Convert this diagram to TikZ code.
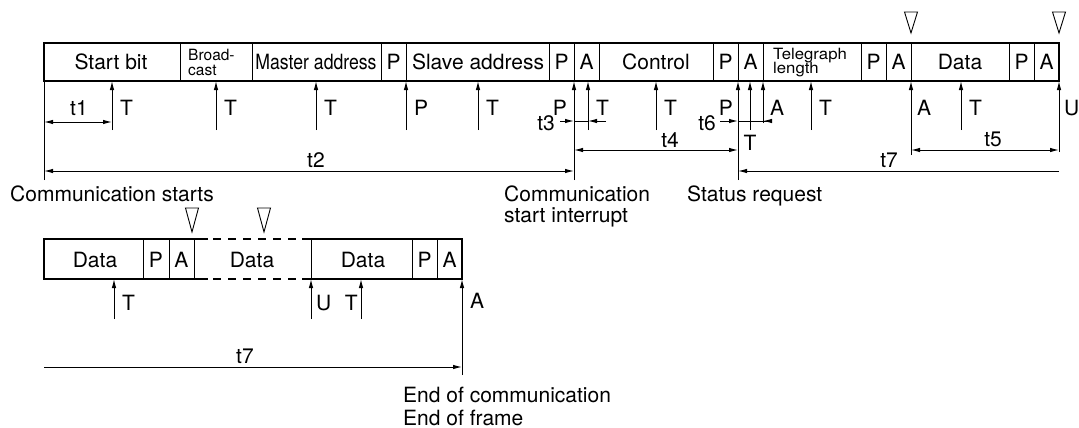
\documentclass[tikz,border=0pt]{standalone}
\usepackage{fontspec}
\setmainfont{TeX Gyre Heros}
\usetikzlibrary{arrows.meta}
\begin{document}
\begin{tikzpicture}[x=1pt,y=-1pt,>={Latex[length=9pt,width=4.5pt]},
  frame/.style={line width=2.6pt},
  thinl/.style={line width=1pt},
  arr/.style={thinl,->},
  dim/.style={thinl,<->},
  lbl/.style={font=\fontsize{21}{24}\selectfont,inner sep=0pt},
  sml/.style={font=\fontsize{15.5}{16}\selectfont,inner sep=0pt},
  tri/.style={line width=0.9pt}]
\useasboundingbox (0,0) rectangle (1079,428);

% ---------- top frame ----------
\foreach \x in {180,252,381,406,549,574,599,713,738,763,861,886,911,1009,1034}
  \draw[thinl] (\x,43) -- (\x,81);
\draw[frame] (44,43) rectangle (1059,81);

\node[lbl,anchor=base] (c1) at (111,70) {Start bit};
\node[sml,anchor=base west] (c2a) at (188,60) {Broad-};
\node[sml,anchor=base west] (c2b) at (188,75.5) {cast};
\node[lbl,anchor=base] (c3) at (316,70) {\scalebox{0.84}[1]{Master address}};
\node[lbl,anchor=base] (c4) at (393.5,70) {P};
\node[lbl,anchor=base] (c5) at (478,70) {Slave address};
\node[lbl,anchor=base] (c6) at (561.5,70) {P};
\node[lbl,anchor=base] (c7) at (586.5,70) {A};
\node[lbl,anchor=base] (c8) at (656,70) {Control};
\node[lbl,anchor=base] (c9) at (725.5,70) {P};
\node[lbl,anchor=base] (c10) at (750.5,70) {A};
\node[sml,anchor=base west] (c11a) at (773,59.5) {\scalebox{1.08}[1]{Telegraph}};
\node[sml,anchor=base west] (c11b) at (773,73.5) {\scalebox{1.08}[1]{length}};
\node[lbl,anchor=base] (c12) at (873.5,70) {P};
\node[lbl,anchor=base] (c13) at (898.5,70) {A};
\node[lbl,anchor=base] (c14) at (960,70) {Data};
\node[lbl,anchor=base] (c15) at (1021.5,70) {P};
\node[lbl,anchor=base] (c16) at (1046.5,70) {A};

% triangles
\draw[tri] (904.5,12) -- (917.5,12) -- (911,33) -- cycle;
\draw[tri] (1052.5,12) -- (1065.5,12) -- (1059,33) -- cycle;

% short arrows below top frame
\foreach \n/\x/\y in {T1/112/130, T2/216/130, T3/316/130, P1/406/130, T4/478/130,
                      T5/588/130, T6/656/130, T7/750/130, A1/763/123, T8/811/130, T9/961/130} {
  \coordinate (s\n) at (\x,\y);
  \coordinate (e\n) at (\x,81);
  \draw[arr] (s\n) -- (e\n);
}
% long lines
\coordinate (sL0) at (44,180);  \coordinate (eL0) at (44,81);
\coordinate (sL1) at (574,180); \coordinate (eL1) at (574,81);
\coordinate (sL2) at (738,180); \coordinate (eL2) at (738,81);
\coordinate (sL3) at (911,155); \coordinate (eL3) at (911,81);
\coordinate (sL4) at (1059,152); \coordinate (eL4) at (1059,81);
\draw[thinl] (sL0) -- (eL0);
\draw[arr] (sL1) -- (eL1);
\draw[arr] (sL2) -- (eL2);
\draw[arr] (sL3) -- (eL3);
\draw[arr] (sL4) -- (eL4);

% arrow labels
\foreach \n/\x/\t in {lT1/120/T, lT2/224/T, lT3/324/T, lP1/414/P, lT4/486/T,
                      lT5/596/T, lT6/664/T, lA1/770/A, lT8/819/T, lA2/917/A, lT9/969/T, lU1/1064/U}
  \node[lbl,anchor=base west] (\n) at (\x,115) {\t};
\node[lbl,anchor=base east] (lP2) at (567,115) {P};
\node[lbl,anchor=base east] (lP3) at (733,115) {P};
\node[lbl,anchor=base] (lT7) at (750,150) {T};

% dimensions
\coordinate (d1a) at (44,122);  \coordinate (d1b) at (112,122);
\draw[dim] (d1a) -- (d1b);
\node[lbl,anchor=base] (t1) at (79,115) {t1};
\coordinate (d2a) at (44,171);  \coordinate (d2b) at (574,171);
\draw[dim] (d2a) -- (d2b);
\node[lbl,anchor=base] (t2) at (316,167) {t2};
% t3
\coordinate (d3a) at (560,121); \coordinate (d3b) at (574,121);
\coordinate (d3c) at (606,121); \coordinate (d3d) at (588,121);
\draw[arr] (d3a) -- (d3b);
\draw[arr] (d3c) -- (d3d);
\draw[thinl] (d3b) -- (d3d);
\node[lbl,anchor=base east] (t3) at (555,130) {t3};
% t4
\coordinate (d4a) at (574,150); \coordinate (d4b) at (738,150);
\draw[dim] (d4a) -- (d4b);
\node[lbl,anchor=base] (t4) at (670,147) {t4};
% t6
\coordinate (d6a) at (720,121); \coordinate (d6b) at (738,121);
\coordinate (d6c) at (768,121); \coordinate (d6d) at (763,121);
\draw[arr] (d6a) -- (d6b);
\draw[thinl] (d6b) -- (d6c);
\draw[arr] (d6c) -- (d6d);
\node[lbl,anchor=base east] (t6) at (716,130) {t6};
% t5
\coordinate (d5a) at (911,150); \coordinate (d5b) at (1059,150);
\draw[dim] (d5a) -- (d5b);
\node[lbl,anchor=base] (t5) at (993,146) {t5};
% t7 top
\coordinate (d7a) at (1059,171); \coordinate (d7b) at (738,171);
\draw[arr] (d7a) -- (d7b);
\node[lbl,anchor=base] (t7a) at (889,167) {t7};

% captions
\node[lbl,anchor=base west] (cs) at (10,201) {Communication starts};
\node[lbl,anchor=base west] (ci1) at (504,201) {Communication};
\node[lbl,anchor=base west] (ci2) at (504,222) {start interrupt};
\node[lbl,anchor=base west] (sr) at (687,201) {Status request};

% ---------- bottom frame ----------
\foreach \x in {143,169,194,311,412,437}
  \draw[thinl] (\x,239) -- (\x,279);
\draw[frame] (208,239) -- (44,239) -- (44,279) -- (208,279);
\draw[frame] (302,239) -- (462,239) -- (462,279) -- (302,279);
\draw[frame,dash pattern=on 8pt off 7pt] (213,239) -- (297,239);
\draw[frame,dash pattern=on 8pt off 7pt] (213,279) -- (297,279);

\node[lbl,anchor=base] (b1) at (95,267) {Data};
\node[lbl,anchor=base] (b2) at (156,267) {P};
\node[lbl,anchor=base] (b3) at (181.5,267) {A};
\node[lbl,anchor=base] (b4) at (252,267) {Data};
\node[lbl,anchor=base] (b5) at (363,267) {Data};
\node[lbl,anchor=base] (b6) at (424.5,267) {P};
\node[lbl,anchor=base] (b7) at (449.5,267) {A};

\draw[tri] (185.5,208) -- (198.5,208) -- (192,232) -- cycle;
\draw[tri] (257.5,208) -- (270.5,208) -- (264,232) -- cycle;

\foreach \n/\x/\y in {B1/114/319, B2/311/319, B3/361/319, B4/462/375} {
  \coordinate (s\n) at (\x,\y);
  \coordinate (e\n) at (\x,279);
  \draw[arr] (s\n) -- (e\n);
}
\node[lbl,anchor=base west] (lB1) at (122,310) {T};
\node[lbl,anchor=base west] (lB2) at (316,310) {U};
\node[lbl,anchor=base east] (lB3) at (358,310) {T};
\node[lbl,anchor=base west] (lB4) at (470,308) {A};

\coordinate (d8a) at (44,367); \coordinate (d8b) at (462,367);
\draw[arr] (d8a) -- (d8b);
\node[lbl,anchor=base] (t7b) at (245,363) {t7};

\node[lbl,anchor=base west] (ec) at (403,402) {End of communication};
\node[lbl,anchor=base west] (ef) at (403,425) {End of frame};
\end{tikzpicture}
\end{document}
